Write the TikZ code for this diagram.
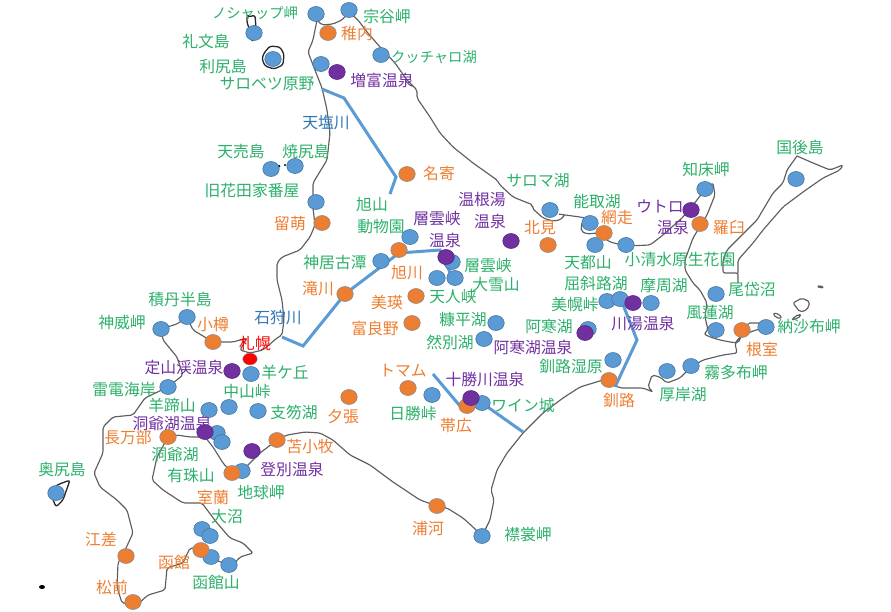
\documentclass[tikz,border=0pt]{standalone}
\usepackage{fontspec}
\setmainfont{Noto Sans CJK JP}
\usetikzlibrary{shapes.geometric}
\definecolor{cgreen}{HTML}{2BB06A}
\definecolor{corange}{HTML}{ED7D31}
\definecolor{cblue}{HTML}{5B9BD5}
\definecolor{cpurple}{HTML}{7030A0}
\definecolor{criver}{HTML}{2E75B6}
\definecolor{ccoast}{HTML}{5E5E5E}
\tikzset{
  spot/.style={ellipse,minimum width=16.5pt,minimum height=15pt,inner sep=0pt,outer sep=0pt,draw=#1,line width=.6pt},
  bluespot/.style={spot=cblue!75!black,fill=cblue},
  orangespot/.style={spot=black!45,fill=corange},
  purplespot/.style={spot=cpurple!80!black,fill=cpurple},
  redspot/.style={ellipse,minimum width=14.5pt,minimum height=12pt,inner sep=0pt,fill=red,draw=black!40,line width=.4pt},
  lab/.style={inner sep=0pt,font=\fontsize{15.8}{17}\selectfont},
  narrow/.style={inner sep=0pt,font=\fontsize{14.3}{16}\selectfont},
  coast/.style={draw=ccoast,line width=1.15pt,line join=round,rounded corners=2pt},
  isle/.style={draw=black!85,line width=1.3pt,line join=round,rounded corners=2.5pt},
  river/.style={draw=cblue,line width=3pt,line join=miter}
}
\begin{document}
\begin{tikzpicture}[x=1pt,y=-1pt]
\useasboundingbox (0,0) rectangle (891,611);
% main coast
\draw[coast] (317,20) -- (322,25) -- (333,24) -- (342,20) -- (349,12) -- (358,20) -- (367,32) -- (380,47) -- (395,63) -- (407,80) -- (417,90) -- (417,98) -- (430,117) -- (440,133) -- (453,147) -- (473,163) -- (497,180) -- (500,185) -- (513,197) -- (533,205) -- (532,208) -- (543,218) -- (553,221) -- (560,220) -- (565,215) -- (558,214) -- (580,217) -- (590,219) -- (582,222) -- (581,231) -- (587,234) -- (597,233) -- (610,242) -- (626,246) -- (650,245) -- (663,235) -- (683,217) -- (697,200) -- (705,189) -- (713,183) -- (715,195) -- (707,215) -- (693,238) -- (685,260) -- (685,270) -- (693,283) -- (700,290) -- (707,303) -- (705,317) -- (708,330) -- (704,334) -- (710,337) -- (720,340) -- (730,342) -- (738,343) -- (742,335) -- (748,323) -- (760,323) -- (766,327) -- (750,332) -- (740,337) -- (735,343) -- (737,353) -- (723,355) -- (703,360) -- (691,367) -- (680,378) -- (667,383) -- (660,377) -- (652,375) -- (648,387) -- (653,392) -- (643,388) -- (620,388) -- (609,382) -- (603,380) -- (580,387) -- (563,398) -- (543,413) -- (523,433) -- (507,453) -- (497,470) -- (491,490) -- (494,500) -- (490,520) -- (482,536) -- (473,527) -- (463,518) -- (447,508) -- (437,506) -- (420,500) -- (393,482) -- (370,465) -- (350,455) -- (333,440) -- (320,433) -- (305,432) -- (287,435) -- (277,440) -- (260,453) -- (242,471) -- (232,473) -- (223,463) -- (213,447) -- (205,437) -- (190,437) -- (177,435) -- (168,437) -- (157,457) -- (152,480) -- (163,490) -- (183,503) -- (202,503) -- (217,523) -- (230,538) -- (243,543) -- (253,553) -- (240,557) -- (233,565) -- (220,562) -- (211,557) -- (201,548) -- (190,548) -- (183,563) -- (167,568) -- (165,590) -- (148,595) -- (137,605) -- (122,603) -- (117,587) -- (118,563) -- (126,548) -- (133,533) -- (127,510) -- (117,500) -- (100,487) -- (94,473) -- (103,453) -- (103,427) -- (113,417) -- (133,415) -- (145,398) -- (168,387) -- (183,375) -- (177,357) -- (163,340) -- (161,329) -- (177,324) -- (187,317) -- (193,330) -- (213,342) -- (233,342) -- (247,338) -- (240,350) -- (250,353) -- (263,350) -- (277,338) -- (282,335) -- (284,320) -- (282,300) -- (277,280) -- (277,263) -- (282,257) -- (300,250) -- (310,237) -- (315,225) -- (313,208) -- (313,197) -- (313,183) -- (327,160) -- (330,133) -- (327,110) -- (322,88) -- (313,65) -- (308,52) -- (313,40) -- (317,20);
% islands
\draw[isle] (247,15) -- (249,17) -- (255,15) -- (256,28) -- (254,38) -- (252,42) -- (250,30) -- (247,23) -- cycle;
\draw[isle] (264,53) -- (270,46) -- (280,47) -- (284,54) -- (283,65) -- (274,69) -- (265,66) -- (262,59) -- cycle;
\fill[black] (279,166) circle (1.5pt);
\fill[black] (285,165) circle (1.2pt);
\draw[isle] (70,480) -- (57,485) -- (50,492) -- (56,507) -- (63,500) -- cycle;
\fill[black] (42,587) ellipse (3pt and 2pt);
\draw[coast] (797,156) -- (787,170) -- (783,183) -- (773,193) -- (757,220) -- (740,237) -- (727,250) -- (723,260) -- (723,273) -- (738,273) -- (738,283);
\draw[coast] (738,273) -- (738,260) -- (753,243) -- (763,230) -- (783,207) -- (803,192) -- (823,178) -- (840,170) -- (843,165) -- (830,170) -- (813,163) -- (797,156);
\draw[coast] (793,303) -- (802,298) -- (810,302) -- (807,310) -- (800,312) -- cycle;
\draw[coast] (817,287) -- (820,285) -- (824,288) -- cycle;
\draw[coast] (773,313) -- (779,314) -- (782,318) -- (776,318) -- cycle;
\draw[coast] (792,319) -- (799,314) -- (801,316) -- (794,320) -- cycle;
% rivers
\draw[river] (322,89) -- (344,98) -- (396,177) -- (390,194);
\draw[river] (282,337) -- (303,346) -- (345,294) -- (399,253) -- (440,250) -- (452,277);
\draw[river] (433,374) -- (460,406) -- (482,403) -- (523,432);
\draw[river] (620,297) -- (637,340) -- (615,387);
% spots
\foreach \x/\y [count=\i] in {316/14,349/10,254/33,273/59,381/55,321/64,271/169,295/166,316/202,410/237,381/261,452/262,455/278,437/278,496/323,484/339,550/210,590/223,595/245,626/245,705/189,796/179,716/294,607/301,620/299,651/303,716/330,766/327,613/360,691/366,667/371,588/329,187/317,161/329,251/374,168/387,209/410,229/407,258/411,217/433,222/442,242/471,56/493,202/529,210/536,211/557,229/565,482/403,432/395,482/536}
  \node[bluespot,name=b\i] at (\x,\y) {};
\foreach \x/\y [count=\i] in {328/33,407/174,322/223,399/250,345/294,416/296,412/323,548/245,604/233,700/224,742/330,609/380,213/342,168/437,232/473,277/440,126/556,201/550,133/602,408/388,349/397,467/406,437/506}
  \node[orangespot,name=o\i] at (\x,\y) {};
\foreach \x/\y [count=\i] in {337/72,446/257,511/241,691/210,633/303,585/333,232/371,205/432,252/451,471/398}
  \node[purplespot,name=p\i] at (\x,\y) {};
\node[redspot,name=sapporo] at (250,359) {};
% green labels
\foreach \x/\y/\t [count=\i] in {206/41/礼文島,223/66/利尻島,387/16/宗谷岬,241/151/天売島,306/151/焼尻島,252/191/旧花田家番屋,372/205/旭山,381/227/動物園,538/181/サロマ湖,597/201/能取湖,706/169/知床岬,800/147/国後島,588/263/天都山,680/259/小清水原生花園,596/283/屈斜路湖,664/286/摩周湖,752/289/尾岱沼,575/304/美幌峠,710/313/風蓮湖,809/327/納沙布岬,736/373/霧多布岬,683/394/厚岸湖,571/366/釧路湿原,549/327/阿寒湖,463/320/糠平湖,450/342/然別湖,523/406/ワイン城,413/413/日勝峠,528/535/襟裳岬,335/262/神居古潭,488/266/層雲峡,496/285/大雪山,453/297/天人峡,180/299/積丹半島,122/322/神威岬,285/372/羊ケ丘,124/389/雷電海岸,247/391/中山峠,172/405/羊蹄山,294/412/支笏湖,175/454/洞爺湖,191/475/有珠山,261/492/地球岬,227/516/大沼,62/469/奥尻島,216/582/函館山,267/84/サロベツ原野}
  \node[lab,text=cgreen,name=g\i] at (\x,\y) {\t};
\node[narrow,text=cgreen,name=gn1] at (255,13) {ノシャップ岬};
\node[narrow,text=cgreen,name=gn2] at (434,57) {クッチャロ湖};
% orange labels
\foreach \x/\y/\t [count=\i] in {357/34/稚内,439/173/名寄,617/218/網走,540/228/北見,729/227/羅臼,762/350/根室,619/400/釧路,375/328/富良野,403/371/トマム,456/426/帯広,343/417/夕張,428/528/浦河,290/223/留萌,318/289/滝川,407/273/旭川,387/302/美瑛,213/324/小樽,128/438/長万部,310/446/苫小牧,213/497/室蘭,101/539/江差,174/562/函館,112/587/松前}
  \node[lab,text=corange,name=ol\i] at (\x,\y) {\t};
% purple labels
\foreach \x/\y/\t [count=\i] in {382/80/増富温泉,437/219/層雲峡,445/240/温泉,482/200/温根湯,490/221/温泉,660/206/ウトロ,673/227/温泉,643/324/川湯温泉,533/347/阿寒湖温泉,485/380/十勝川温泉,184/367/定山渓温泉,172/423/洞爺湖温泉,292/469/登別温泉}
  \node[lab,text=cpurple,name=pl\i] at (\x,\y) {\t};
% river and city labels
\node[lab,text=criver,name=teshio] at (326,123) {天塩川};
\node[lab,text=criver,name=ishikari] at (278,318) {石狩川};
\node[lab,text=red,name=sapporolabel] at (255,343) {札幌};
\end{tikzpicture}
\end{document}
